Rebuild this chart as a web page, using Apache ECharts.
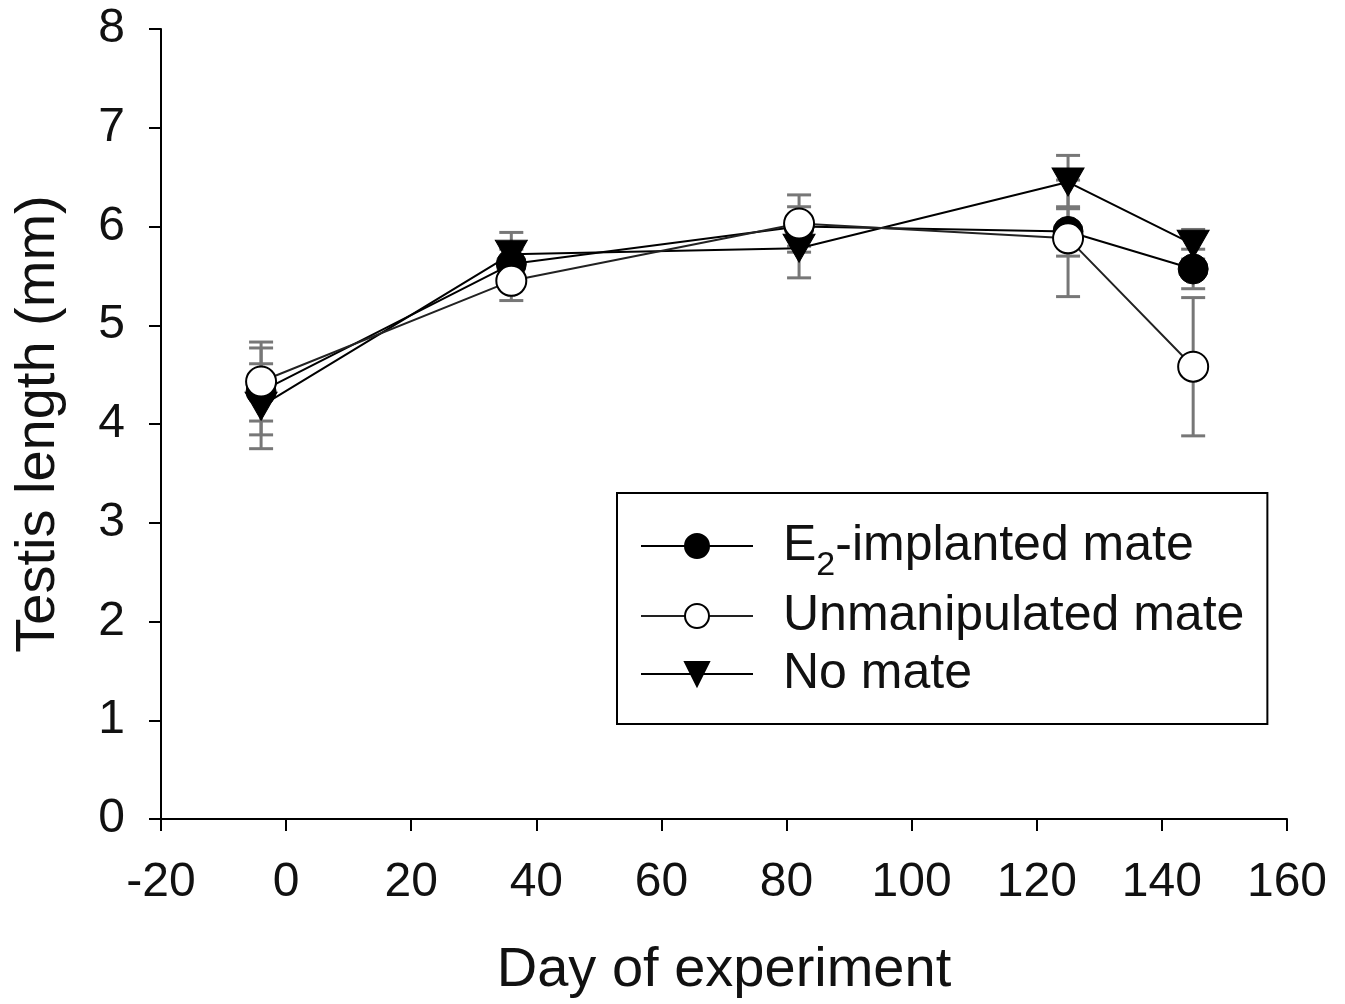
<!DOCTYPE html>
<html>
<head>
<meta charset="utf-8">
<title>Testis length</title>
<script src="https://cdn.jsdelivr.net/npm/echarts@6/dist/echarts.min.js"></script>
<style>
  html, body { margin: 0; padding: 0; background: #fff; }
  #chart { width: 1345px; height: 1004px; }
</style>
</head>
<body>
<div id="chart"></div>
<script>
// day of experiment
var days = [-4, 36, 82, 125, 145]
// E2-implanted mate
var e2Mean = [4.33, 5.62, 6.00, 5.95, 5.57]
var e2Err = [0.44, 0.15, 0.20, 0.25, 0.20]
// unmanipulated mate
var unmMean = [4.43, 5.45, 6.03, 5.88, 4.58]
var unmErr = [0.40, 0.20, 0.29, 0.59, 0.70]
// no mate
var noMean = [4.18, 5.72, 5.78, 6.45, 5.82]
var noErr = [0.43, 0.22, 0.30, 0.27, 0.15]

var names = ['E2-implanted mate', 'Unmanipulated mate', 'No mate']
var downTriangle = 'path://M0,0 L10,0 L5,9 Z'
var font = 'Liberation Sans, Arial, sans-serif'

function points(mean) {
  return days.map(function(d, i) { return [d, mean[i]] })
}
function bars(mean, err) {
  return days.map(function(d, i) { return [d, mean[i] - err[i], mean[i] + err[i]] })
}

function errorSeries(mean, err, z) {
  return {
    type: 'custom',
    z: z,
    silent: true,
    data: bars(mean, err),
    renderItem: function(params, api) {
      var top = api.coord([api.value(0), api.value(2)])
      var bot = api.coord([api.value(0), api.value(1)])
      var half = 12
      var style = { stroke: '#777', lineWidth: 3 }
      return {
        type: 'group',
        children: [
          { type: 'line', shape: { x1: top[0], y1: top[1], x2: bot[0], y2: bot[1] }, style: style },
          { type: 'line', shape: { x1: top[0] - half, y1: top[1], x2: top[0] + half, y2: top[1] }, style: style },
          { type: 'line', shape: { x1: bot[0] - half, y1: bot[1], x2: bot[0] + half, y2: bot[1] }, style: style }
        ]
      }
    }
  }
}

var chart = echarts.init(document.getElementById('chart'))
chart.setOption({
  animation: false,
  textStyle: { fontFamily: font },
  grid: { left: 161, right: 58, top: 29, bottom: 184 },
  legend: {
    data: names,
    orient: 'vertical',
    left: 617,
    top: 493,
    padding: [28, 23, 25, 23],
    borderColor: '#000',
    borderWidth: 2,
    itemWidth: 112,
    itemHeight: 30,
    itemGap: 8,
    formatter: function(name) {
      if (name === names[0]) return '{a|E}{sub|2}{n|-implanted mate}'
      return '{a|' + name + '}'
    },
    textStyle: {
      color: '#111',
      fontFamily: font,
      rich: {
        a: { fontSize: 50, color: '#111', fontFamily: font, lineHeight: 60, padding: [0, 0, 0, 25] },
        n: { fontSize: 50, color: '#111', fontFamily: font, lineHeight: 60 },
        sub: { fontSize: 34, color: '#111', fontFamily: font, verticalAlign: 'bottom', padding: [40, 0, 0, 0] }
      }
    }
  },
  xAxis: {
    type: 'value',
    min: -20,
    max: 160,
    interval: 20,
    name: 'Day of experiment',
    nameLocation: 'middle',
    nameGap: 124,
    nameTextStyle: { fontSize: 56, color: '#111', fontFamily: font },
    axisLine: { onZero: false, lineStyle: { color: '#000', width: 2 } },
    axisTick: { length: 12, lineStyle: { color: '#000', width: 2 } },
    axisLabel: { fontSize: 48, color: '#111', margin: 40 },
    splitLine: { show: false }
  },
  yAxis: {
    type: 'value',
    min: 0,
    max: 8,
    interval: 1,
    name: 'Testis length (mm)',
    nameLocation: 'middle',
    nameGap: 94,
    nameTextStyle: { fontSize: 56, color: '#111', fontFamily: font },
    axisLine: { onZero: false, lineStyle: { color: '#000', width: 2 } },
    axisTick: { length: 12, lineStyle: { color: '#000', width: 2 } },
    axisLabel: { fontSize: 48, color: '#111', margin: 36 },
    splitLine: { show: false }
  },
  series: [
    errorSeries(e2Mean, e2Err, 1),
    errorSeries(unmMean, unmErr, 1),
    errorSeries(noMean, noErr, 1),
    {
      name: names[0],
      type: 'line',
      z: 3,
      data: points(e2Mean),
      symbol: 'circle',
      symbolSize: 30,
      lineStyle: { color: '#000', width: 2 },
      itemStyle: { color: '#000', borderColor: '#000', borderWidth: 1 }
    },
    {
      name: names[1],
      type: 'line',
      z: 4,
      data: points(unmMean),
      symbol: 'circle',
      symbolSize: 30,
      lineStyle: { color: '#222', width: 2 },
      itemStyle: { color: '#fff', borderColor: '#000', borderWidth: 2 }
    },
    {
      name: names[2],
      type: 'line',
      z: 2,
      data: points(noMean),
      symbol: downTriangle,
      symbolSize: [32, 28],
      lineStyle: { color: '#000', width: 2 },
      itemStyle: { color: '#000', borderColor: '#000', borderWidth: 1 }
    }
  ]
})
</script>
</body>
</html>
